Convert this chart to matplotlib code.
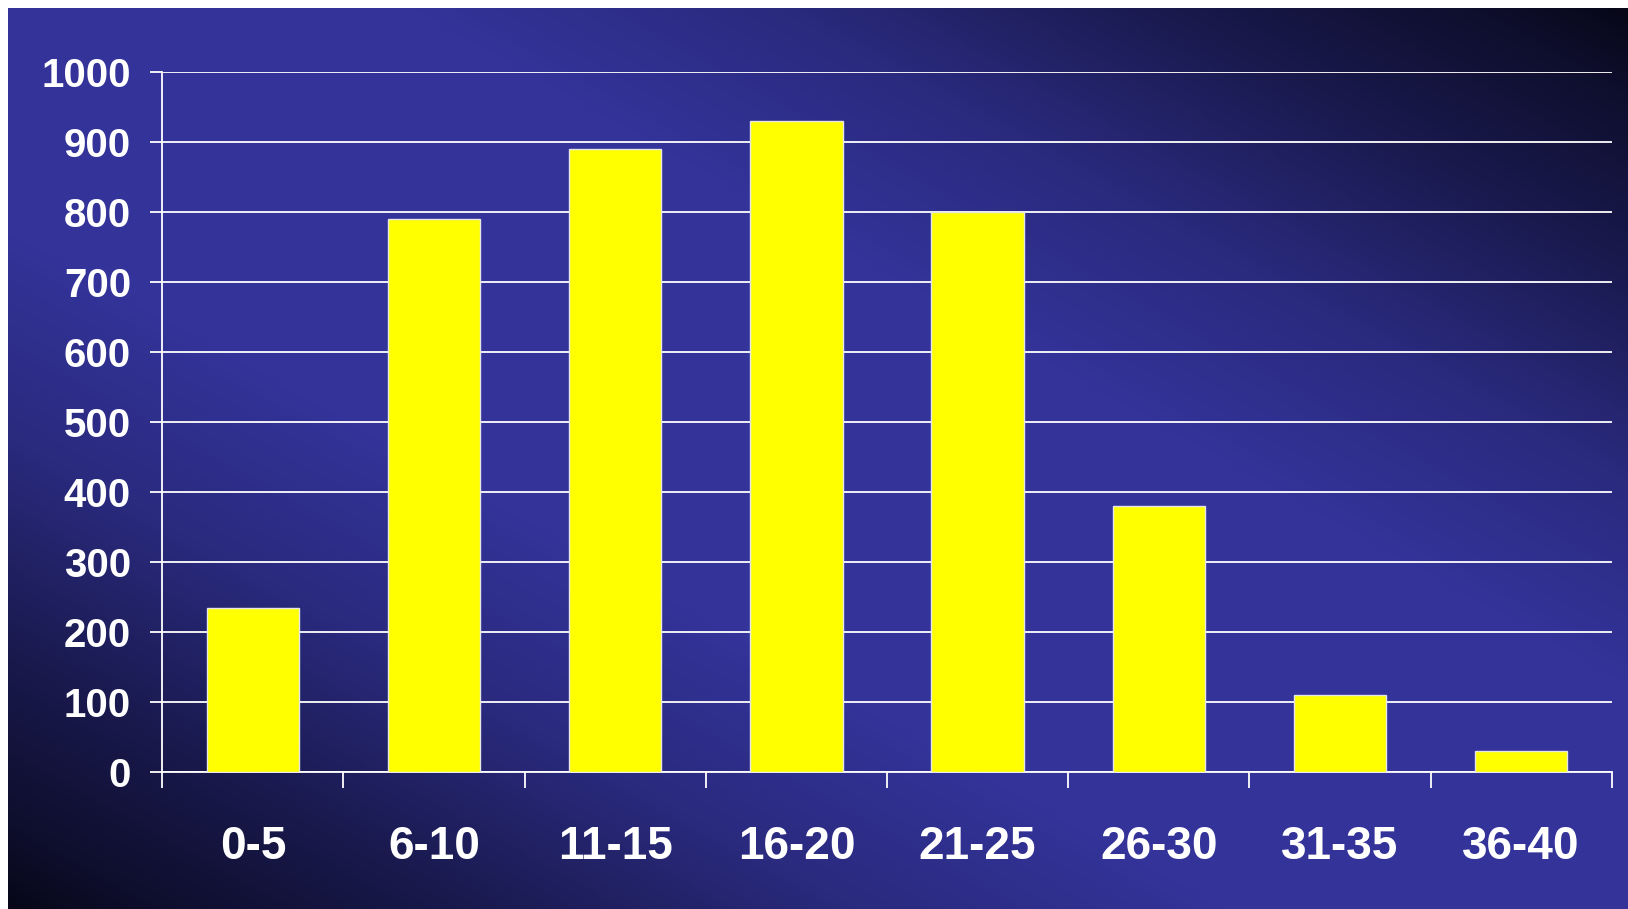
import matplotlib
matplotlib.use("Agg")
import matplotlib.pyplot as plt
import numpy as np

plt.rcParams['font.family'] = ['Liberation Sans', 'DejaVu Sans']
plt.rcParams['font.weight'] = 'bold'

# Věkové skupiny a počty
categories = ['0-5', '6-10', '11-15', '16-20', '21-25', '26-30', '31-35', '36-40']
counts = [235, 790, 890, 930, 800, 380, 110, 30]
y_ticks = [0, 100, 200, 300, 400, 500, 600, 700, 800, 900, 1000]

W, H, DPI = 1628, 909, 100
fig = plt.figure(figsize=(W / DPI, H / DPI), dpi=DPI, facecolor='white')

# Pozadí: modrý pruh po úhlopříčce, tmavé rohy
mx, my = 8, 8
bg = fig.add_axes([mx / W, 0, 1 - mx / W, 1 - my / H], zorder=-10)
bw, bh = W - mx, H - my
xx, yy = np.meshgrid(np.arange(bw), np.arange(bh))
d = np.abs(xx * bh - yy * bw) / np.hypot(bw, bh)
t = d / d.max()
f = np.interp(t, [0, 0.25, 0.48, 0.73, 0.92, 1.0], [1, 1, 0.8, 0.42, 0.18, 0.04])
blue = np.array([51, 51, 153]) / 255
dark = np.array([5, 5, 18]) / 255
img = dark + (blue - dark) * f[..., None]
bg.imshow(img, aspect='auto', interpolation='bilinear')
bg.axis('off')

ax = fig.add_axes([162.3 / W, 136.7 / H, (1611.7 - 162.3) / W, (772.3 - 71.7) / H])
ax.patch.set_visible(False)

x = np.arange(len(categories))
ax.bar(x, counts, width=0.51, color='#FFFF00', edgecolor='#e6e6e6', linewidth=1.0, zorder=3)

ax.set_xlim(-0.5, len(categories) - 0.5)
ax.set_ylim(0, 1000)
ax.set_yticks(y_ticks)
ax.set_yticklabels([str(v) for v in y_ticks])
ax.yaxis.grid(True, color='white', linewidth=1.3, zorder=0)
ax.set_axisbelow(True)

for s in ['top', 'right']:
    ax.spines[s].set_visible(False)
for s in ['left', 'bottom']:
    ax.spines[s].set_color('white')
    ax.spines[s].set_linewidth(1.3)

ax.tick_params(axis='y', colors='white', length=8.6, width=1.3, pad=14, labelsize=29)
ax.set_xticks(x)
ax.set_xticklabels(categories)
ax.tick_params(axis='x', which='major', length=0, pad=38, colors='white', labelsize=33)
ax.set_xticks(np.arange(-0.5, len(categories)), minor=True)
ax.tick_params(axis='x', which='minor', length=11.5, width=1.3, color='white')

fig.savefig('out.png', dpi=DPI, facecolor='white')
